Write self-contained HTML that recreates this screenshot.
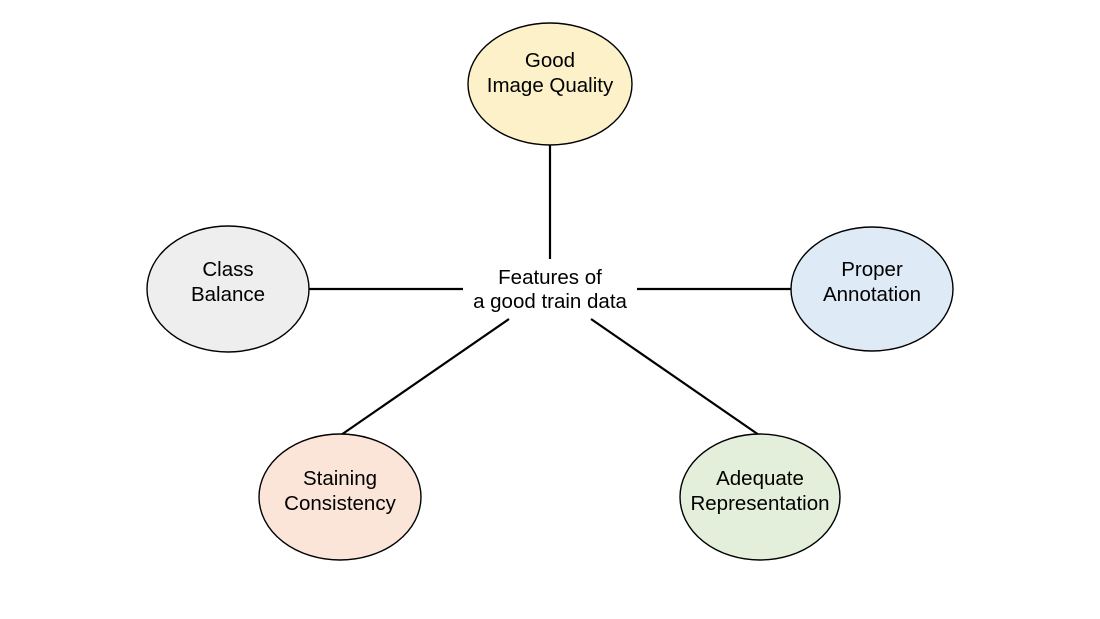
<!DOCTYPE html>
<html><head><style>
html,body{margin:0;padding:0;background:#fff;}
svg{display:block;}
text{font-family:"Liberation Sans",Arial,sans-serif;font-size:20.5px;fill:#000;text-anchor:middle;}
</style></head><body>
<svg width="1100" height="619" viewBox="0 0 1100 619">
<g stroke="#000" stroke-width="2.2" fill="none">
<line x1="550" y1="144" x2="550" y2="259"/>
<line x1="309" y1="289" x2="463" y2="289"/>
<line x1="637" y1="289" x2="791" y2="289"/>
<line x1="509" y1="319" x2="341" y2="435"/>
<line x1="591" y1="319" x2="759" y2="435"/>
</g>
<g stroke="#000" stroke-width="1.4">
<ellipse cx="550" cy="84" rx="82" ry="61" fill="#fdf1c9"/>
<ellipse cx="228" cy="289" rx="81" ry="63" fill="#eeeeee"/>
<ellipse cx="872" cy="289" rx="81" ry="62" fill="#deeaf6"/>
<ellipse cx="340" cy="497" rx="81" ry="63" fill="#fbe4d8"/>
<ellipse cx="760" cy="497" rx="80" ry="63" fill="#e3efda"/>
</g>
<text x="550" y="67">Good</text><text x="550" y="92">Image Quality</text>
<text x="550" y="284">Features of</text><text x="550" y="308">a good train data</text>
<text x="228" y="276">Class</text><text x="228" y="301">Balance</text>
<text x="872" y="276">Proper</text><text x="872" y="301">Annotation</text>
<text x="340" y="485">Staining</text><text x="340" y="510">Consistency</text>
<text x="760" y="485">Adequate</text><text x="760" y="510">Representation</text>
</svg>
</body></html>
